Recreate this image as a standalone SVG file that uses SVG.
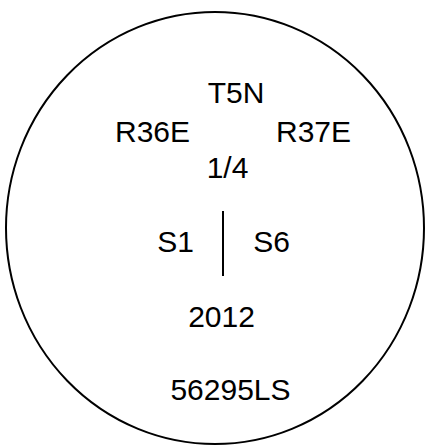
<svg xmlns="http://www.w3.org/2000/svg" width="426" height="447" viewBox="0 0 426 447">
<style>
text{font-family:"Liberation Sans",Arial,sans-serif;font-size:30px;fill:#000;text-anchor:middle}
.o{fill:none;stroke:#000;stroke-width:2}
</style>
<rect width="426" height="447" fill="#fff"/>
<g id="outline"><ellipse class="o" cx="215" cy="228" rx="209" ry="216"/></g>
<g id="labels">
<text x="236" y="103">T5N</text>
<text x="152.5" y="142">R36E</text>
<text x="313.5" y="142">R37E</text>
<text x="227.5" y="178">1/4</text>
<text x="175.5" y="252">S1</text>
<text x="271.5" y="252">S6</text>
<text x="221.5" y="327">2012</text>
<text x="230.5" y="400">56295LS</text>
</g>
<g id="connectors"><line x1="223" y1="211" x2="223" y2="276" stroke="#000" stroke-width="2"/></g>
</svg>
